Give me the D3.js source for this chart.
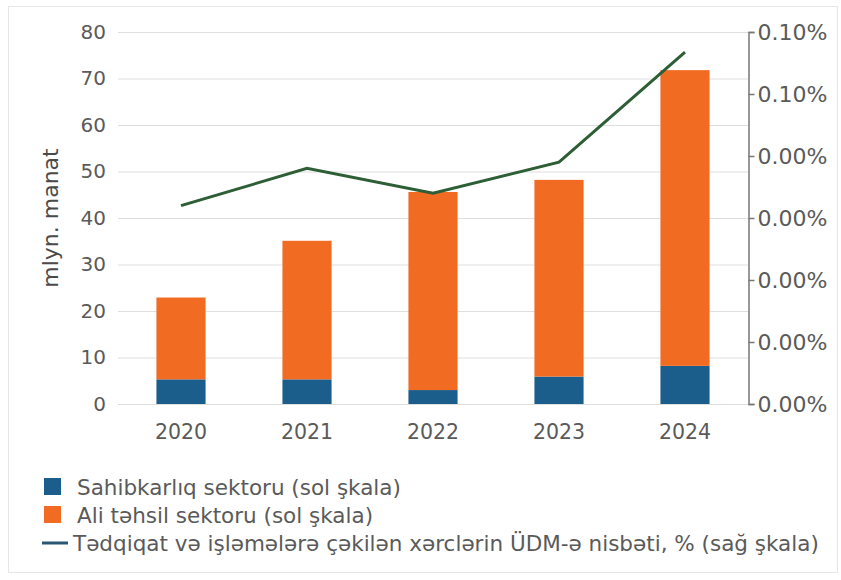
<!DOCTYPE html>
<html>
<head>
<meta charset="utf-8">
<script src="https://cdn.jsdelivr.net/npm/d3@7"></script>
<style>
    body { margin: 0; background: #fff; }
    svg { display: block; font-family: "DejaVu Sans", sans-serif; }
    .tick text { fill: #5a5a5a; }
</style>
</head>
<body>
<svg id="chart" width="841" height="580"></svg>
<script>
const years = ["2020", "2021", "2022", "2023", "2024"];
const businessSector = [5.3, 5.3, 3.0, 5.9, 8.2];
const higherEduSector = [17.6, 29.8, 42.6, 42.3, 63.6];
const gdpShare = [0.064, 0.076, 0.068, 0.078, 0.1135];
const leftTicks = [0, 10, 20, 30, 40, 50, 60, 70, 80];
const rightTicks = [0, 0.02, 0.04, 0.06, 0.08, 0.10, 0.12];
const rightTickLabels = ["0.00%", "0.00%", "0.00%", "0.00%", "0.00%", "0.10%", "0.10%"];
const legendLabels = [
    "Sahibkarlıq sektoru (sol şkala)",
    "Ali təhsil sektoru (sol şkala)",
    "Tədqiqat və işləmələrə çəkilən xərclərin ÜDM-ə nisbəti, % (sağ şkala)"
];

const MARGIN = {top: 32, right: 93, bottom: 176, left: 118};
const COLORS = {business: "#1b5e8b", higher: "#f26b22", line: "#2d5e35", legendLine: "#2b5672"};

const svg = d3.select("#chart");
const width = +svg.attr("width");
const height = +svg.attr("height");

// light frame around the whole chart
svg.append("rect")
    .attr("x", 8.5).attr("y", 6.5)
    .attr("width", 829).attr("height", 566)
    .attr("fill", "none")
    .attr("stroke", "#e6e6e6");

const x = d3.scaleBand()
    .domain(years)
    .range([MARGIN.left, width - MARGIN.right])
    .paddingInner(0.61)
    .paddingOuter(0.305);

const yLeft = d3.scaleLinear()
    .domain([0, 80])
    .range([height - MARGIN.bottom, MARGIN.top]);

const yRight = d3.scaleLinear()
    .domain([0, 0.12])
    .range([height - MARGIN.bottom, MARGIN.top]);

// gridlines
svg.append("g")
    .selectAll("line")
    .data(leftTicks)
    .join("line")
    .attr("x1", MARGIN.left)
    .attr("x2", width - MARGIN.right)
    .attr("y1", d => yLeft(d) + 0.5)
    .attr("y2", d => yLeft(d) + 0.5)
    .attr("stroke", "#dedede");

// stacked bars
const stackData = years.map((yr, i) => ({year: yr, business: businessSector[i], higher: higherEduSector[i]}));
const stacked = d3.stack().keys(["business", "higher"])(stackData);

svg.append("g")
    .selectAll("g")
    .data(stacked)
    .join("g")
    .attr("fill", d => COLORS[d.key])
    .selectAll("rect")
    .data(d => d)
    .join("rect")
    .attr("x", d => x(d.data.year))
    .attr("width", x.bandwidth())
    .attr("y", d => yLeft(d[1]))
    .attr("height", d => yLeft(d[0]) - yLeft(d[1]));

// ratio line
const line = d3.line()
    .x((d, i) => x(years[i]) + x.bandwidth() / 2)
    .y(d => yRight(d));

svg.append("path")
    .datum(gdpShare)
    .attr("fill", "none")
    .attr("stroke", COLORS.line)
    .attr("stroke-width", 3)
    .attr("d", line);

// left axis
const leftAxis = svg.append("g")
    .attr("transform", `translate(${MARGIN.left - 12}, 0)`)
    .call(d3.axisLeft(yLeft).tickValues(leftTicks).tickSize(0).tickPadding(0));
leftAxis.select(".domain").remove();
leftAxis.selectAll("text").attr("font-size", 20).attr("font-family", "DejaVu Sans");

svg.append("text")
    .attr("transform", `translate(50, ${(MARGIN.top + height - MARGIN.bottom) / 2}) rotate(-90)`)
    .attr("text-anchor", "middle")
    .attr("dy", "0.35em")
    .attr("font-size", 22)
    .attr("fill", "#4a4a4a")
    .text("mlyn. manat");

// right axis
const rightAxis = svg.append("g")
    .attr("transform", `translate(${width - MARGIN.right + 0.5}, 0)`)
    .call(d3.axisRight(yRight)
        .tickValues(rightTicks)
        .tickFormat((d, i) => rightTickLabels[i])
        .tickSize(6)
        .tickPadding(3));
rightAxis.select(".domain").attr("stroke", "#777").attr("stroke-width", 1.5);
rightAxis.selectAll(".tick line").attr("stroke", "#777").attr("stroke-width", 1.5);
rightAxis.selectAll("text").attr("font-size", 22).attr("font-family", "DejaVu Sans");

// bottom axis
const bottomAxis = svg.append("g")
    .attr("transform", `translate(0, ${height - MARGIN.bottom})`)
    .call(d3.axisBottom(x).tickSize(0).tickPadding(20));
bottomAxis.select(".domain").remove();
bottomAxis.selectAll("text").attr("font-size", 20.5).attr("font-family", "DejaVu Sans");

// legend
const legend = svg.append("g").attr("transform", "translate(44, 478)");
const legendRows = legend.selectAll("g")
    .data(legendLabels)
    .join("g")
    .attr("transform", (d, i) => `translate(0, ${i * 28})`);

legendRows.filter((d, i) => i < 2)
    .append("rect")
    .attr("width", 17)
    .attr("height", 17)
    .attr("fill", (d, i) => i === 0 ? COLORS.business : COLORS.higher);

legendRows.filter((d, i) => i === 2)
    .append("line")
    .attr("x1", -2).attr("x2", 24)
    .attr("y1", 9).attr("y2", 9)
    .attr("stroke", COLORS.legendLine)
    .attr("stroke-width", 3);

legendRows.append("text")
    .attr("x", (d, i) => i === 2 ? 29 : 33)
    .attr("y", 9)
    .attr("dy", "0.35em")
    .attr("font-size", 21.5)
    .attr("fill", "#5a5a5a")
    .text(d => d);
</script>
</body>
</html>
